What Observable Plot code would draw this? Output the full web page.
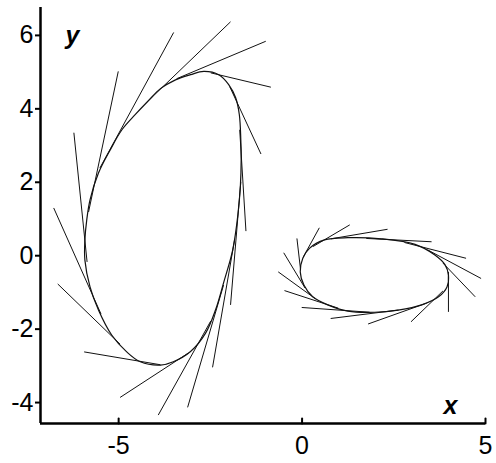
<!DOCTYPE html>
<html>
<head>
<meta charset="utf-8">
<script src="https://cdn.jsdelivr.net/npm/d3@7"></script>
<script src="https://cdn.jsdelivr.net/npm/@observablehq/plot@0.6"></script>
<style>
  html, body { margin: 0; padding: 0; background: #fff; }
  #chart svg { display: block; }
</style>
</head>
<body>
<div id="chart"></div>
<script>
// Large closed curve
const bigCurveX = [-2.68, -2.27, -2.00, -1.81, -1.71, -1.67, -1.66, -1.68, -1.75, -1.89, -2.14, -2.36, -2.63, -3.04, -3.51, -3.86, -4.41, -4.78, -5.19, -5.55, -5.78, -5.92, -5.92, -5.87, -5.78, -5.55, -5.23, -4.91, -4.55, -4.19, -3.86, -3.45, -3.04];
const bigCurveY = [5.02, 4.93, 4.66, 4.30, 3.84, 3.16, 2.61, 1.93, 1.11, 0.16, -0.74, -1.48, -2.11, -2.61, -2.89, -2.98, -2.89, -2.62, -2.16, -1.48, -0.85, -0.12, 0.43, 0.97, 1.52, 2.25, 2.88, 3.43, 3.84, 4.22, 4.55, 4.79, 4.93];

// Small closed curve
const smallCurveX = [0.61, 1.25, 2.16, 3.08, 3.62, 3.90, 3.99, 3.95, 3.72, 3.26, 2.62, 1.98, 1.25, 0.70, 0.29, 0.05, -0.05, 0.02, 0.20];
const smallCurveY = [0.43, 0.49, 0.46, 0.31, 0.02, -0.25, -0.53, -0.85, -1.12, -1.34, -1.48, -1.54, -1.51, -1.34, -1.12, -0.80, -0.44, -0.07, 0.20];

// Tangent vectors on the large curve: start point (on curve) and end point
const bigX1 = [-2.49, -1.97, -1.70, -1.67, -1.84, -2.14, -2.49, -3.10, -3.86, -4.96, -5.48, -5.86, -5.82, -5.51, -4.14, -3.42];
const bigY1 = [4.98, 4.60, 3.43, 2.01, 0.43, -0.80, -1.78, -2.65, -2.97, -2.41, -1.59, -0.17, 1.19, 2.39, 4.27, 4.82];
const bigX2 = [-0.85, -1.12, -1.53, -1.95, -2.44, -3.12, -3.92, -4.96, -5.94, -6.66, -6.77, -6.22, -5.01, -3.50, -1.95, -0.99];
const bigY2 = [4.59, 2.77, 0.67, -1.34, -3.04, -4.13, -4.34, -3.86, -2.62, -0.77, 1.30, 3.35, 5.02, 6.08, 6.37, 5.84];

// Tangent vectors on the small curve
const smallX1 = [3.99, 3.84, 3.40, 2.63, 1.84, 0.99, 0.36, 0.08, -0.04, 0.03, 0.30, 0.79, 1.75, 2.79, 3.42, 3.84];
const smallY1 = [-0.44, -0.96, -1.29, -1.48, -1.54, -1.43, -1.17, -0.88, -0.39, -0.04, 0.25, 0.46, 0.47, 0.36, 0.16, -0.20];
const smallX2 = [3.99, 2.97, 1.80, 0.78, -0.01, -0.48, -0.65, -0.50, -0.14, 0.47, 1.30, 2.33, 3.53, 4.47, 4.88, 4.72];
const smallY2 = [-1.53, -1.80, -1.86, -1.71, -1.41, -0.95, -0.44, 0.08, 0.47, 0.76, 0.84, 0.72, 0.38, -0.07, -0.62, -1.12];

const xTicks = [-5, 0, 5];
const yTicks = [-4, -2, 0, 2, 4, 6];
const xDomain = [-7.13, 5];
const yDomain = [-4.57, 6.76];

const bigCurve = bigCurveX.map((x, i) => ({x, y: bigCurveY[i]}));
const smallCurve = smallCurveX.map((x, i) => ({x, y: smallCurveY[i]}));
const vecs = [
  ...bigX1.map((x1, i) => ({x1, y1: bigY1[i], x2: bigX2[i], y2: bigY2[i]})),
  ...smallX1.map((x1, i) => ({x1, y1: smallY1[i], x2: smallX2[i], y2: smallY2[i]}))
];

const font = "'Liberation Sans', Arial, sans-serif";
const tickShape = {draw(context, l) { context.moveTo(0, 0); context.lineTo(0, -l); }};

const chart = Plot.plot({
  width: 496,
  height: 463,
  marginLeft: 40,
  marginRight: 11,
  marginTop: 7,
  marginBottom: 40,
  style: {fontFamily: font, fontSize: "25px", color: "#000", background: "#fff"},
  x: {type: "linear", domain: xDomain},
  y: {type: "linear", domain: yDomain},
  marks: [
    Plot.line(bigCurve, {x: "x", y: "y", curve: "catmull-rom-closed", stroke: "#111", strokeWidth: 1.2}),
    Plot.line(smallCurve, {x: "x", y: "y", curve: "catmull-rom-closed", stroke: "#111", strokeWidth: 1.2}),
    Plot.link(vecs, {x1: "x1", y1: "y1", x2: "x2", y2: "y2", stroke: "#111", strokeWidth: 1}),
    Plot.ruleX([xDomain[0]], {stroke: "#000", strokeWidth: 2.5}),
    Plot.ruleY([yDomain[0]], {stroke: "#000", strokeWidth: 2.5}),
    Plot.axisY({ticks: yTicks, tickSize: 5, tickPadding: 2, strokeWidth: 2, tickFormat: d => String(d), fontSize: 25, label: null}),
    Plot.axisX({ticks: xTicks, tickSize: 0, tickPadding: 13, tickFormat: d => String(d), fontSize: 25, label: null}),
    Plot.vector(xTicks, {x: d => d, y: () => yDomain[0], length: 5, rotate: 0, anchor: "start", shape: tickShape, stroke: "#000", strokeWidth: 2}),
    Plot.text(["y"], {frameAnchor: "top-left", dx: 25, dy: 19, fontSize: 25, fontWeight: "bold", fontStyle: "italic", fill: "#000"}),
    Plot.text(["x"], {frameAnchor: "bottom-right", dx: -28, dy: -10, fontSize: 25, fontWeight: "bold", fontStyle: "italic", fill: "#000"})
  ]
});
document.getElementById("chart").appendChild(chart);
</script>
</body>
</html>
